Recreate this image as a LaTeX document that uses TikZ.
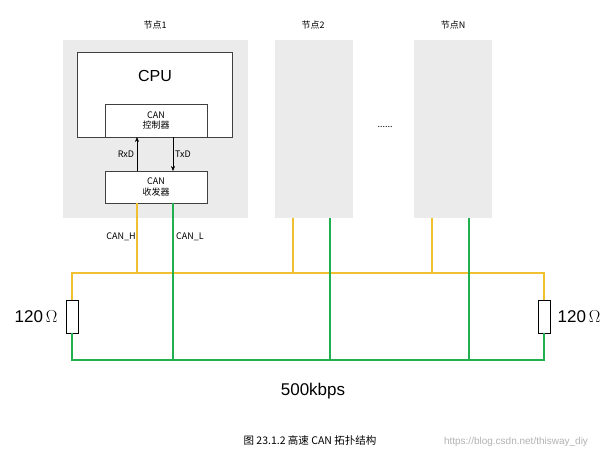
\documentclass[tikz,border=0pt]{standalone}
\usepackage{fontspec}
\setmainfont{Noto Sans CJK SC}
\newfontfamily\lib{Liberation Sans}
\usetikzlibrary{arrows.meta}
\definecolor{nodegray}{HTML}{EBEBEB}
\definecolor{busy}{HTML}{F0C030}
\definecolor{busg}{HTML}{20B050}
\begin{document}
\begin{tikzpicture}[x=1pt,y=-1pt,
  nodebox/.style={fill=nodegray,draw=none},
  inbox/.style={draw=black!75,fill=white,line width=0.6pt},
  yl/.style={busy,line width=1.3pt},
  gl/.style={busg,line width=1.3pt},
  sm/.style={font=\fontsize{9}{10.5}\selectfont},
  big/.style={font=\lib\fontsize{17}{19}\selectfont}]
\useasboundingbox (0,0) rectangle (612,461);
\fill[white] (0,0) rectangle (612,461);
\fill[nodebox] (63,40) rectangle (248,218);
\fill[nodebox] (275,40) rectangle (353,218);
\fill[nodebox] (414,40) rectangle (492,218);
\node[sm] (t1) at (155,25) {节点1};
\node[sm] (t2) at (313,25) {节点2};
\node[sm] (tN) at (453,25) {节点N};
\node[sm] (dots) at (385,127) {......};
\draw[inbox] (77,52) rectangle (232,137);
\node[font=\lib\fontsize{16}{18}\selectfont] (cpu) at (155,76) {CPU};
\draw[inbox] (105,104) rectangle (207,137);
\node[sm,align=center,inner sep=0pt] (ctl) at (156,120.5) {CAN\\控制器};
\draw[inbox] (105,171) rectangle (207,203);
\node[sm,align=center,inner sep=0pt] (trx) at (156,187) {CAN\\收发器};
\coordinate (rxa) at (137,171); \coordinate (rxb) at (137,137);
\coordinate (txa) at (173,137); \coordinate (txb) at (173,171);
\draw[-{Stealth[length=5pt,width=4pt]},line width=0.5pt] (rxa) -- (rxb);
\draw[-{Stealth[length=5pt,width=4pt]},line width=0.5pt] (txa) -- (txb);
\node[sm] (rxl) at (126,154) {RxD};
\node[sm] (txl) at (183,154) {TxD};
\node[sm] (chl) at (121,237) {CAN\_H};
\node[sm] (cll) at (190,237) {CAN\_L};
% resistors
\draw[black,line width=0.8pt,fill=white] (66,300) rectangle (78,333);
\draw[black,line width=0.8pt,fill=white] (538,300) rectangle (550,333);
% buses
\draw[yl] (72,300) -- (72,273) -- (544,273) -- (544,300);
\draw[gl] (72,333) -- (72,360) -- (544,360) -- (544,333);
\draw[yl] (137,203) -- (137,273);
\draw[gl] (173,203) -- (173,360);
\draw[yl] (293,218) -- (293,273);
\draw[gl] (330,218) -- (330,360);
\draw[yl] (432,218) -- (432,273);
\draw[gl] (469,218) -- (469,360);
\node[big] (r1) at (36,317) {120\,$\Omega$};
\node[big] (r2) at (579,317) {120\,$\Omega$};
\node[big] (rate) at (313,391) {500kbps};
\node[font=\fontsize{10.5}{12}\selectfont] (cap) at (310,440) {图 23.1.2 高速 CAN 拓扑结构};
\node[font=\lib\fontsize{10}{12}\selectfont,text=black!30] (wm) at (516,442) {https://blog.csdn.net/thisway\_diy};
\end{tikzpicture}
\end{document}
